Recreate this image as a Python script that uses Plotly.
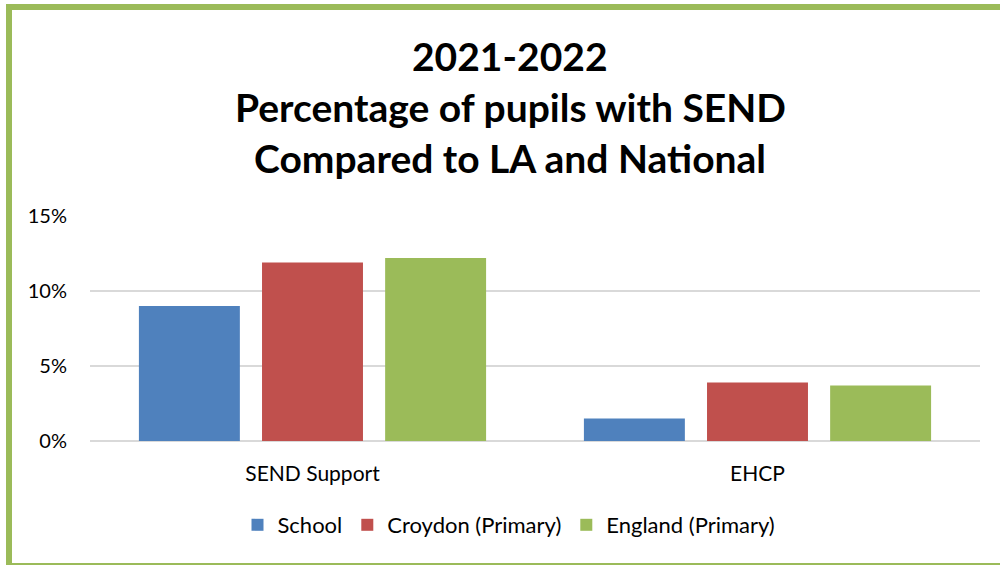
import plotly.graph_objects as go

categories = ["SEND Support", "EHCP"]
series_names = ["School", "Croydon (Primary)", "England (Primary)"]
school = [9.0, 1.5]
croydon = [11.9, 3.9]
england = [12.2, 3.7]
colors = ["#4F81BD", "#C0504D", "#9BBB59"]
title_lines = ["2021-2022", "Percentage of pupils with SEND", "Compared to LA and National"]
y_ticks = [0, 5, 10, 15]
y_tick_labels = ["0%", "5%", "10%", "15%"]

FONT = "Lato"

fig = go.Figure()
for name, vals, col in zip(series_names, [school, croydon, england], colors):
    fig.add_trace(go.Bar(x=categories, y=vals, name=name, marker=dict(color=col, line=dict(width=0))))

L, R, T, B = 90, 20, 216, 124
W, H = 1000, 565
pw, ph = W - L - R, H - T - B

def px(x):
    return (x - L) / pw

def py(y):
    return (H - B - y) / ph

annotations = []
for line, yc in zip(title_lines, [56, 107, 158]):
    annotations.append(dict(text="<b>%s</b>" % line, x=px(510), y=py(yc), xref="paper", yref="paper",
                            xanchor="center", yanchor="middle", showarrow=False,
                            font=dict(family=FONT, size=39, color="#000000")))

fig.update_layout(
    width=W, height=H,
    margin=dict(l=L, r=R, t=T, b=B),
    paper_bgcolor="white", plot_bgcolor="white",
    barmode="group", bargap=0.17, bargroupgap=0.18,
    font=dict(family=FONT, size=18, color="#000000"),
    showlegend=True,
    legend=dict(orientation="h", x=px(509), xanchor="center", y=py(525), yanchor="middle",
                font=dict(family=FONT, size=22), itemwidth=30, traceorder="normal"),
    annotations=annotations,
    shapes=[dict(type="rect", xref="paper", yref="paper",
                 x0=px(9), x1=px(1010), y0=py(566), y1=py(7),
                 line=dict(color="#9BBB59", width=6), fillcolor="rgba(0,0,0,0)", layer="below")],
    xaxis=dict(showgrid=False, showline=False, ticks="", tickfont=dict(size=21), ticklabelstandoff=18),
    yaxis=dict(range=[0, 15], tickvals=y_ticks, ticktext=y_tick_labels, showgrid=True,
               gridcolor="#D9D9D9", gridwidth=2, zeroline=True, zerolinecolor="#D9D9D9", zerolinewidth=2,
               showline=False, ticks="", tickfont=dict(size=20), ticklabelstandoff=22),
)

fig.write_html("out.html", config={"displayModeBar": False},
               post_script="document.body.style.margin='0px';document.body.style.overflow='hidden';")
